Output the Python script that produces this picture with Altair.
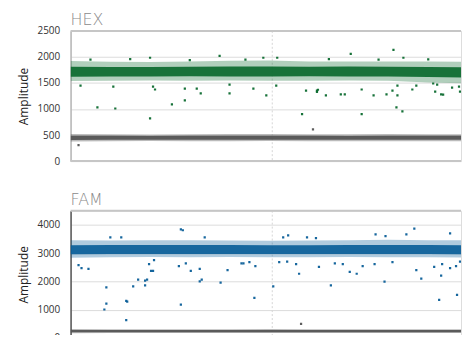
import altair as alt
import pandas as pd

# ---------------- data ----------------
X_MAX = 19650
DIVIDER_X = 10150

band_x = [0, 2000, 4000, 6000, 8000, 10000, 12000, 14000, 16000, 18000, 20500]

# HEX channel
hex_pos_core_lo = [1620, 1625, 1625, 1630, 1625, 1625, 1630, 1625, 1625, 1615, 1600]
hex_pos_core_hi = [1810, 1805, 1805, 1810, 1815, 1815, 1810, 1815, 1810, 1805, 1800]
hex_pos_edge_lo = [1540, 1545, 1550, 1545, 1550, 1545, 1545, 1550, 1545, 1510, 1490]
hex_pos_edge_hi = [1920, 1910, 1905, 1915, 1925, 1930, 1915, 1915, 1915, 1915, 1905]
hex_neg_core_lo = [405, 410, 410, 410, 410, 410, 410, 410, 410, 410, 410]
hex_neg_core_hi = [485, 485, 480, 485, 485, 485, 485, 480, 485, 485, 485]
hex_neg_edge_lo = [375, 380, 385, 380, 380, 385, 380, 380, 380, 380, 380]
hex_neg_edge_hi = [520, 515, 510, 515, 520, 520, 515, 515, 520, 515, 515]

hex_out_x = [1350, 2250, 4000, 500, 2150, 4150, 4000, 7500, 4250, 5750, 6350, 6550,
             5100, 5750, 8000, 9200, 9850, 10350, 11650, 12400, 11850, 9700, 10400,
             8000, 16250, 14100, 16750, 12450, 12400, 12850, 13600, 13800, 14650,
             15250, 15900, 16200, 16450, 16450, 17200, 17400, 16400, 16700, 14650,
             18350, 18650, 18750, 19200, 19550, 19800, 19600, 20000, 18250, 18450,
             1000, 3000, 6000, 8800, 13000, 15500, 18000]
hex_out_y = [1030, 1010, 820, 1450, 1430, 1430, 1985, 2020, 1375, 1390, 1390, 1300,
             1090, 1165, 1300, 1390, 1260, 1450, 900, 1355, 1355, 1985, 1985,
             1470, 2135, 2060, 1985, 1370, 1330, 1260, 1280, 1280, 1375,
             1260, 1280, 1355, 1260, 1450, 1375, 1450, 1030, 955, 900,
             1335, 1280, 1275, 1410, 1430, 1300, 1335, 900, 1490, 1470,
             1950, 1960, 1940, 1950, 1960, 1950, 1955]
hex_neg_out_x = [400, 12200]
hex_neg_out_y = [305, 610]

# FAM channel
fam_pos_core_lo = [2960, 2965, 2970, 2970, 2970, 2965, 2965, 2970, 2970, 2965, 2960]
fam_pos_core_hi = [3280, 3285, 3290, 3290, 3285, 3280, 3280, 3290, 3290, 3285, 3280]
fam_pos_edge_lo = [2840, 2850, 2860, 2855, 2860, 2850, 2850, 2860, 2855, 2850, 2840]
fam_pos_edge_hi = [3460, 3450, 3460, 3455, 3450, 3440, 3450, 3460, 3470, 3460, 3450]
fam_neg_core_lo = [200, 200, 200, 200, 200, 200, 200, 200, 200, 200, 200]
fam_neg_core_hi = [280, 280, 280, 280, 280, 280, 280, 280, 280, 280, 280]
fam_neg_edge_lo = [165, 170, 170, 170, 170, 170, 170, 170, 170, 170, 170]
fam_neg_edge_hi = [315, 310, 310, 310, 310, 315, 310, 310, 310, 310, 310]

fam_out_x = [400, 550, 900, 1800, 1800, 1700, 2800, 2850, 2800, 3150, 3400, 3750,
             3850, 3750, 4050, 4150, 3950, 4200, 2000, 2550,
             5550, 5650, 5450, 5800, 6050, 6500, 6600, 6500, 7550, 7900, 5550, 8600,
             8700, 9000, 9300, 9250, 10200, 10500, 10900, 11350, 11500, 10950, 10700,
             12350, 6750, 11900,
             17300, 15350, 15850, 16900, 19100, 12500, 13300, 13700, 14050, 14400,
             14700, 15300, 16200, 13100, 15800, 17400, 17650, 18300, 18650, 18700,
             19100, 19400, 18550, 19450, 19600]
fam_out_y = [2575, 2470, 2440, 1790, 1210, 1005, 1310, 1280, 630, 1825, 2060, 2030,
             2060, 1860, 2370, 2370, 2610, 2750, 3560, 3560,
             3840, 3810, 2540, 2640, 2370, 2440, 2060, 2000, 1960, 2400, 1175, 2640,
             2640, 2680, 2540, 1415, 1825, 2680, 2700, 2610, 2270, 3630, 3560,
             3530, 3560, 3560,
             3870, 3660, 3600, 3660, 3700, 2510, 2640, 2610, 2340, 2270,
             2540, 2610, 2680, 1860, 1990, 2400, 2100, 2510, 2200, 2610,
             2470, 2540, 1345, 1520, 2700]
fam_neg_out_x = [11600]
fam_neg_out_y = [500]

hex_ticks = [0, 500, 1000, 1500, 2000, 2500]
fam_ticks = [0, 1000, 2000, 3000, 4000]

# ---------------- styling ----------------
FONT = "Open Sans"
TITLE_FONT = "DejaVu Sans"
GREEN = "#0b6a2e"
BLUE = "#0a5e98"
GREY = "#555555"


def band_df(lo, hi):
    return pd.DataFrame({"x": band_x, "lo": lo, "hi": hi})


def panel(title, ymax, ticks, pos_core, pos_edge, neg_core, neg_edge,
          out_x, out_y, nout_x, nout_y, color, domain_color, height, toffset):
    xs = alt.Scale(domain=[0, X_MAX], nice=False, zero=False)
    ys = alt.Scale(domain=[0, ymax], nice=False)
    yaxis = alt.Axis(values=ticks, format="d", grid=True, gridColor="#dcdcdc",
                     gridWidth=1, tickSize=0, labelPadding=11, labelFont=FONT,
                     labelFontSize=10, labelColor="#333333", title="Amplitude",
                     titleFont=FONT, titleFontSize=12, titleFontWeight="normal",
                     titleColor="#222222", titlePadding=6, domain=True,
                     domainColor=domain_color, domainWidth=1.5)

    def area(lo, hi, col, op):
        return alt.Chart(band_df(lo, hi)).mark_area(
            color=col, opacity=op, clip=True).encode(
            x=alt.X("x:Q", scale=xs, axis=None),
            y=alt.Y("lo:Q", scale=ys, axis=yaxis),
            y2="hi:Q",
        )

    def pts(xv, yv, col):
        return alt.Chart(pd.DataFrame({"x": xv, "y": yv})).mark_square(
            color=col, size=5, opacity=0.95, clip=True).encode(
            x=alt.X("x:Q", scale=xs, axis=None),
            y=alt.Y("y:Q", scale=ys, axis=yaxis),
        )

    divider = alt.Chart(pd.DataFrame({"x": [DIVIDER_X]})).mark_rule(
        color="#d6d6d6", strokeDash=[2, 2], strokeWidth=1).encode(
        x=alt.X("x:Q", scale=xs, axis=None))

    borders = alt.Chart(pd.DataFrame({"v": [0, ymax]})).mark_rule(
        color="#c6c6c6", strokeWidth=2).encode(
        y=alt.Y("v:Q", scale=ys, axis=yaxis))

    layers = [
        divider,
        area(neg_edge[0], neg_edge[1], GREY, 0.4),
        area(neg_core[0], neg_core[1], GREY, 0.95),
        area(pos_edge[0], pos_edge[1], color, 0.32),
        area(pos_core[0], pos_core[1], color, 0.92),
        pts(out_x, out_y, color),
        pts(nout_x, nout_y, GREY),
        borders,
    ]
    return alt.layer(*layers).properties(
        width=393, height=height,
        title=alt.TitleParams(title, anchor="start", frame="group", font=TITLE_FONT,
                              fontSize=16, fontWeight=200, color="#8a8a8a",
                              offset=toffset),
    )


top = panel("HEX", 2500, hex_ticks,
            (hex_pos_core_lo, hex_pos_core_hi), (hex_pos_edge_lo, hex_pos_edge_hi),
            (hex_neg_core_lo, hex_neg_core_hi), (hex_neg_edge_lo, hex_neg_edge_hi),
            hex_out_x, hex_out_y, hex_neg_out_x, hex_neg_out_y, GREEN, "#b8b8b8",
            131, -2)
bottom = panel("FAM", 4500, fam_ticks,
               (fam_pos_core_lo, fam_pos_core_hi), (fam_pos_edge_lo, fam_pos_edge_hi),
               (fam_neg_core_lo, fam_neg_core_hi), (fam_neg_edge_lo, fam_neg_edge_hi),
               fam_out_x, fam_out_y, fam_neg_out_x, fam_neg_out_y, BLUE, "#555555",
               128, 2)

chart = alt.vconcat(top, bottom, spacing=24).properties(
    padding={"left": 9, "top": 2, "right": 0, "bottom": -10}
).configure_view(
    fill="#f3f4f4", stroke="transparent", strokeWidth=0
).configure(background="white")

chart.save("out.html", embed_options={"renderer": "svg", "actions": False})
